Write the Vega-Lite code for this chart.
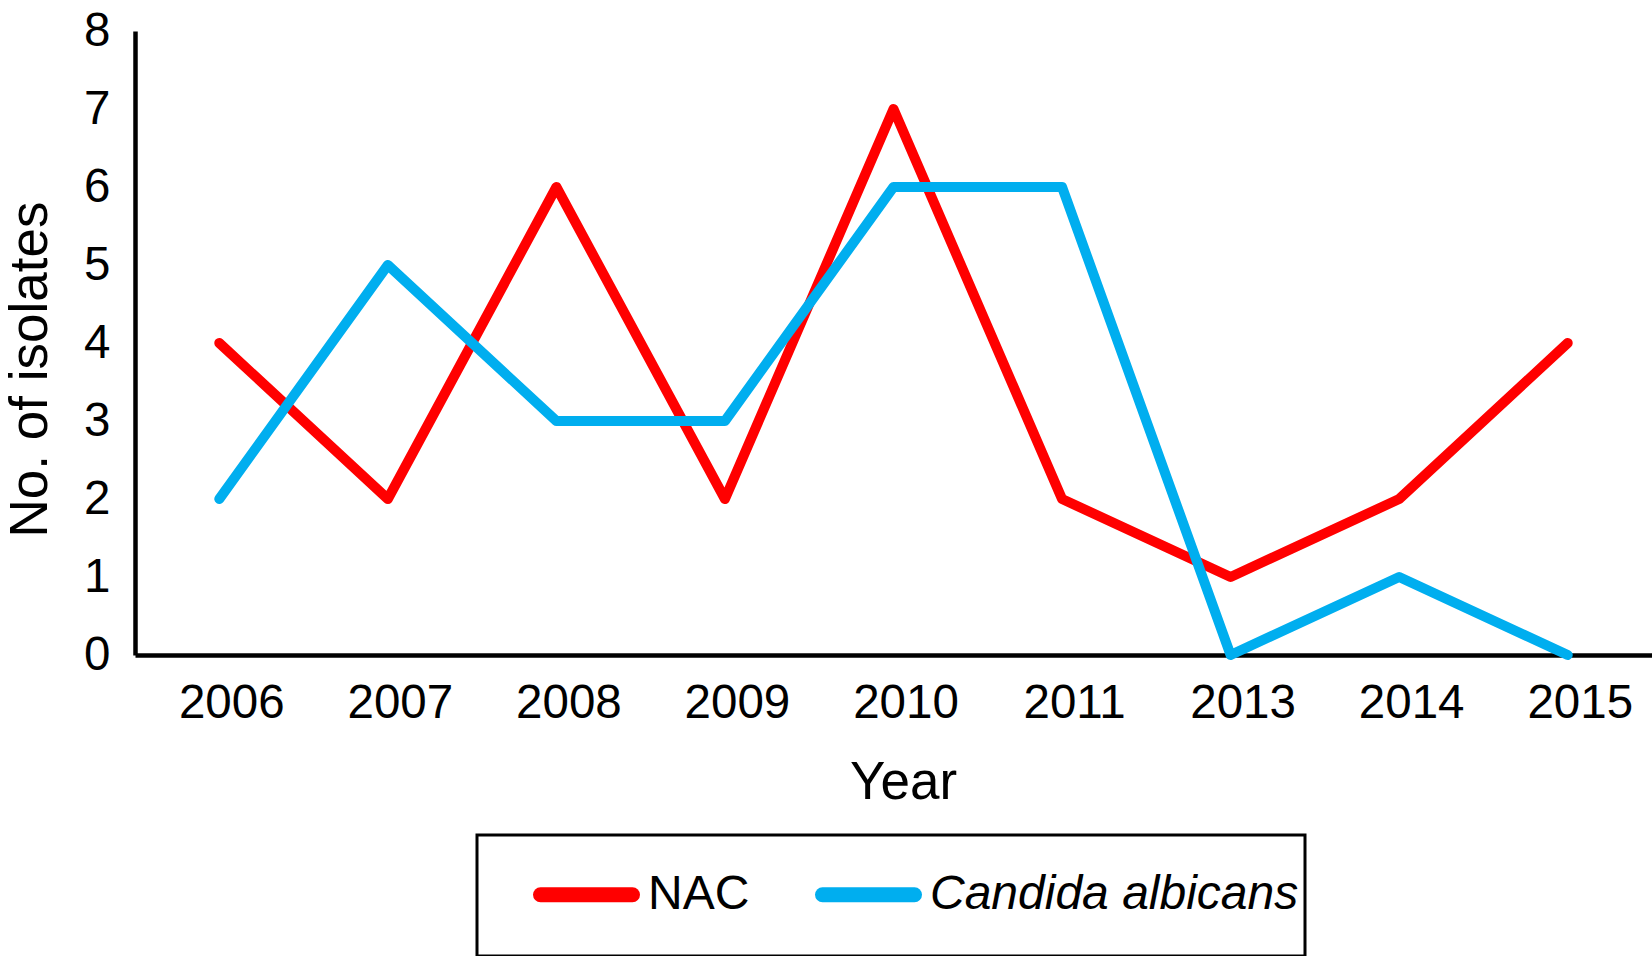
{
  "$schema": "https://vega.github.io/schema/vega-lite/v6.json",
  "description": "No. of isolates per year, NAC vs Candida albicans",
  "autosize": {"type": "none"},
  "padding": {"left": 135, "top": 31, "right": 0, "bottom": 301},
  "width": 1517,
  "height": 624,
  "background": "white",
  "config": {
    "view": {"stroke": "transparent"},
    "font": "Liberation Sans"
  },
  "data": {
    "values": [
      {"Year": "2006", "Series": "NAC", "Count": 4},
      {"Year": "2007", "Series": "NAC", "Count": 2},
      {"Year": "2008", "Series": "NAC", "Count": 6},
      {"Year": "2009", "Series": "NAC", "Count": 2},
      {"Year": "2010", "Series": "NAC", "Count": 7},
      {"Year": "2011", "Series": "NAC", "Count": 2},
      {"Year": "2013", "Series": "NAC", "Count": 1},
      {"Year": "2014", "Series": "NAC", "Count": 2},
      {"Year": "2015", "Series": "NAC", "Count": 4},
      {"Year": "2006", "Series": "Candida albicans", "Count": 2},
      {"Year": "2007", "Series": "Candida albicans", "Count": 5},
      {"Year": "2008", "Series": "Candida albicans", "Count": 3},
      {"Year": "2009", "Series": "Candida albicans", "Count": 3},
      {"Year": "2010", "Series": "Candida albicans", "Count": 6},
      {"Year": "2011", "Series": "Candida albicans", "Count": 6},
      {"Year": "2013", "Series": "Candida albicans", "Count": 0},
      {"Year": "2014", "Series": "Candida albicans", "Count": 1},
      {"Year": "2015", "Series": "Candida albicans", "Count": 0}
    ]
  },
  "mark": {
    "type": "line",
    "strokeWidth": 10,
    "strokeCap": "round",
    "strokeJoin": "round"
  },
  "encoding": {
    "x": {
      "field": "Year",
      "type": "nominal",
      "sort": null,
      "scale": {"type": "point", "padding": 0.5},
      "axis": {
        "title": "Year",
        "titleFontSize": 53,
        "titleFontWeight": "normal",
        "titleColor": "black",
        "titleX": 768,
        "titleY": 143,
        "titleBaseline": "alphabetic",
        "labelAngle": 0,
        "labelFontSize": 47.5,
        "labelColor": "black",
        "labelPadding": 24,
        "labelOffset": 12,
        "ticks": false,
        "grid": false,
        "domainColor": "black",
        "domainWidth": 4.5
      }
    },
    "y": {
      "field": "Count",
      "type": "quantitative",
      "scale": {"domain": [0, 8], "nice": false},
      "axis": {
        "title": "No. of isolates",
        "titleFontSize": 53,
        "titleFontWeight": "normal",
        "titleColor": "black",
        "titleAngle": -90,
        "titleX": -89,
        "titleY": 338,
        "titleBaseline": "alphabetic",
        "values": [0, 1, 2, 3, 4, 5, 6, 7, 8],
        "labelFontSize": 47.5,
        "labelColor": "black",
        "labelPadding": 25,
        "ticks": false,
        "grid": false,
        "domainColor": "black",
        "domainWidth": 4.5
      }
    },
    "color": {
      "field": "Series",
      "type": "nominal",
      "sort": ["NAC", "Candida albicans"],
      "scale": {"domain": ["NAC", "Candida albicans"], "range": ["#FF0000", "#00AEEF"]},
      "legend": {
        "title": " ",
        "titleOrient": "bottom",
        "titleFontSize": 1,
        "titlePadding": 24,
        "orient": "none",
        "direction": "horizontal",
        "legendX": 342,
        "legendY": 804,
        "strokeColor": "black",
        "fillColor": "white",
        "padding": 6,
        "symbolOffset": 50,
        "symbolType": "stroke",
        "symbolSize": 8464,
        "symbolStrokeWidth": 15,
        "labelFontSize": 48,
        "labelColor": "black",
        "labelOffset": 8,
        "columnPadding": 15,
        "labelLimit": 500,
        "encode": {
          "legend": {"update": {"strokeWidth": {"value": 3}}},
          "symbols": {"update": {"strokeCap": {"value": "round"}, "strokeWidth": {"value": 15}}},
          "labels": {"update": {"fontStyle": {"signal": "datum.label === 'Candida albicans' ? 'italic' : 'normal'"}}}
        }
      }
    }
  }
}
